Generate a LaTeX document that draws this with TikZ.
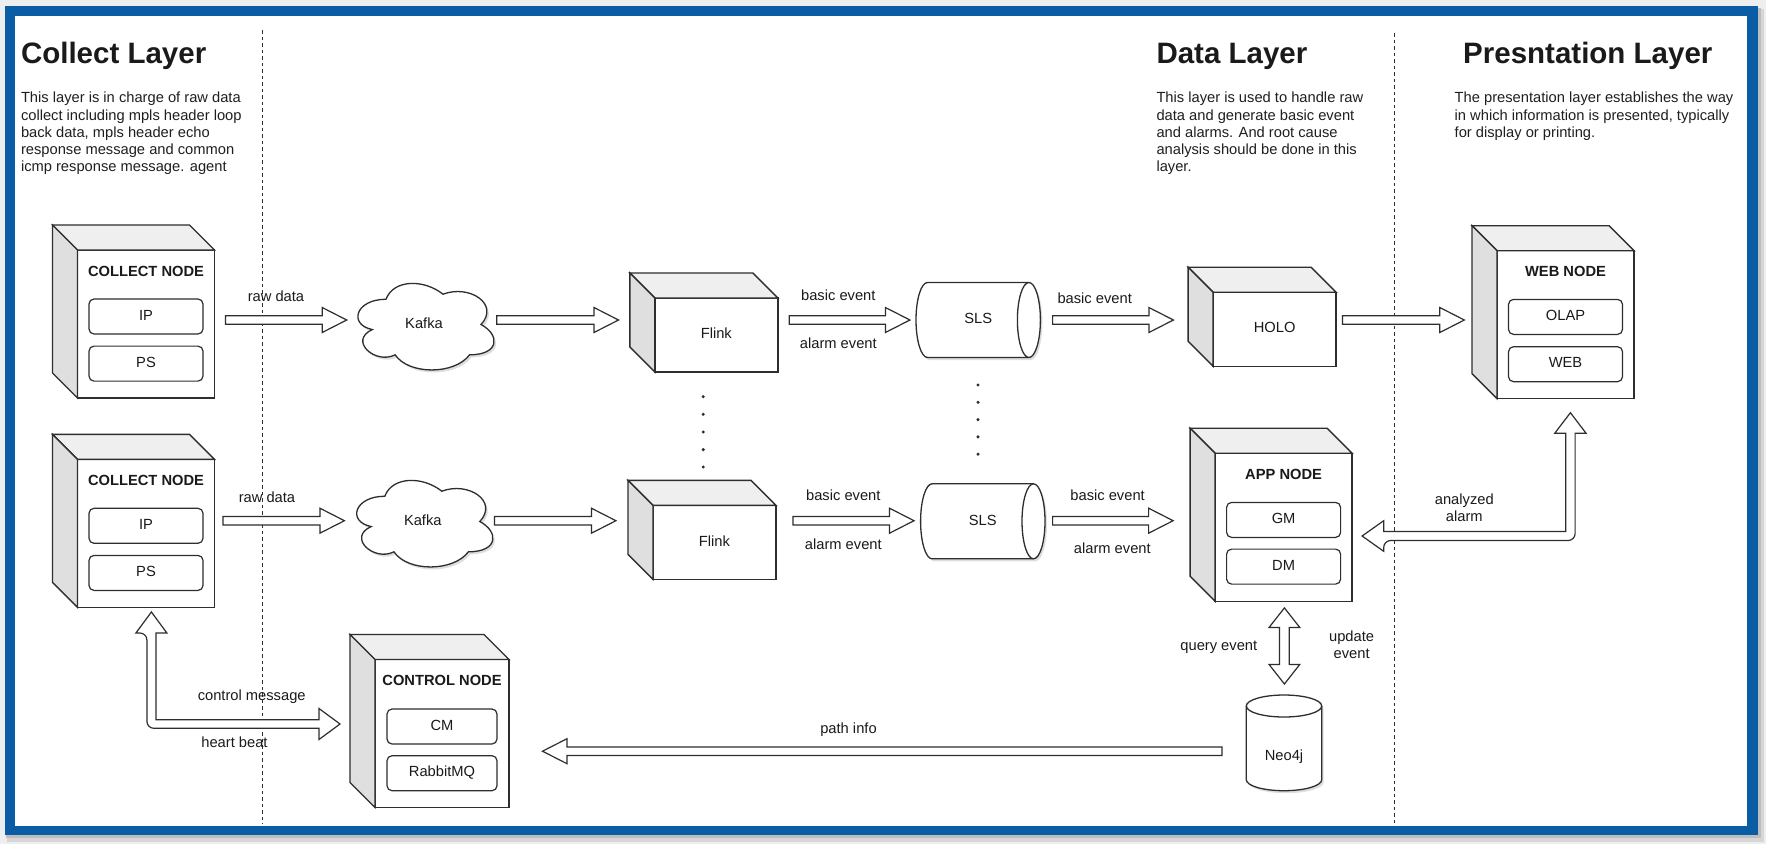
\documentclass[tikz,border=0pt]{standalone}
\usepackage{fontspec}
\setmainfont{Liberation Sans}
\usetikzlibrary{calc}
\pgfdeclarelayer{frame}
\pgfdeclarelayer{shapes}
\pgfsetlayers{frame,shapes,main}

\definecolor{framec}{RGB}{10,92,165}
\definecolor{edgec}{HTML}{2E2E2E}
\definecolor{topc}{HTML}{EFEFEF}
\definecolor{sidec}{HTML}{DFDFDF}
\definecolor{pagec}{HTML}{ECEEF0}
\definecolor{txtc}{HTML}{1A1A1A}

\tikzset{
  every node/.style={font=\fontsize{14.7}{17.2}\selectfont, text=txtc, inner sep=0pt, outer sep=0pt},
  lbl/.style={text height=10.6pt, text depth=3.1pt},
  front/.style={draw=edgec, fill=white, line width=1.4pt, minimum width=137pt, minimum height=148pt, lbl},
  smallfront/.style={front, minimum width=123pt, minimum height=74pt},
  face/.style={draw=edgec, line width=1.4pt, line join=miter},
  inbox/.style={draw=edgec, line width=1.2pt, rounded corners=5pt, minimum width=114pt, minimum height=35pt, lbl},
  ntitle/.style={font=\bfseries\fontsize{14.7}{17.2}\selectfont, lbl},
  bigtitle/.style={font=\bfseries\fontsize{29.5}{35}\selectfont, anchor=base west},
  desc/.style={anchor=north west, align=left, text=black!88},
  flex/.style={draw=edgec, fill=white, line width=1.2pt, line join=miter},
  shadowed/.style={preaction={fill=black, opacity=0.13, transform canvas={xshift=2pt, yshift=-2.5pt}}},
  cyl/.style={draw=edgec, line width=1.3pt},
  cloudst/.style={draw=edgec, fill=white, line width=1.3pt},
  sepline/.style={draw=edgec, line width=1.1pt, dash pattern=on 3.5pt off 3pt},
}

\newcommand\cubefaces[1]{%
  \filldraw[face, fill=topc] (#1.north west) -- ++(-25,-25) -- ($(#1.north east)+(-25,-25)$) -- (#1.north east) -- cycle;
  \filldraw[face, fill=sidec] (#1.north west) -- ++(-25,-25) -- ($(#1.south west)+(-25,-25)$) -- (#1.south west) -- cycle;
}
\newcommand\hflex[2]{%
  \draw[flex] let \p1=#1, \p2=#2, \n1={ifthenelse(\x2>\x1,1,-1)} in
    (\x1,{\y2+4.2pt}) -- ({\x2-(\n1)*24.5pt},{\y2+4.2pt}) -- ({\x2-(\n1)*24.5pt},{\y2+12.5pt})
    -- (\x2,\y2) -- ({\x2-(\n1)*24.5pt},{\y2-12.5pt}) -- ({\x2-(\n1)*24.5pt},{\y2-4.2pt})
    -- (\x1,{\y2-4.2pt}) -- cycle;
}
\newcommand\cloudshape[1]{%
  \begin{scope}[shift={(#1.north west)}, x=152pt, y=-101pt]
    \filldraw[cloudst, shadowed] (0.25,0.25) .. controls (0.05,0.25) and (0,0.5) .. (0.16,0.55)
      .. controls (0,0.66) and (0.18,0.9) .. (0.31,0.8)
      .. controls (0.4,1) and (0.7,1) .. (0.8,0.8)
      .. controls (1,0.8) and (1,0.6) .. (0.875,0.5)
      .. controls (1,0.3) and (0.8,0.1) .. (0.625,0.2)
      .. controls (0.5,0.05) and (0.3,0.05) .. (0.25,0.25) -- cycle;
  \end{scope}
}
\newcommand\hcyl[1]{%
  \filldraw[cyl, fill=white, shadowed] let \p1=(#1.north west), \p2=(#1.south east) in
    ({\x1+11.5pt},\y1) -- ({\x2-11.5pt},\y1) arc[start angle=90, end angle=-90, x radius=11.5pt, y radius=37.5pt]
    -- ({\x1+11.5pt},\y2) arc[start angle=270, end angle=90, x radius=11.5pt, y radius=37.5pt] -- cycle;
  \draw[cyl] let \p1=(#1.north west), \p2=(#1.south east) in
    ({\x2-11.5pt},\y1) arc[start angle=90, end angle=270, x radius=11.5pt, y radius=37.5pt];
}

\begin{document}
\begin{tikzpicture}[x=1pt, y=-1pt]
\useasboundingbox (0,0) rectangle (1766,844);

% ---------- frame ----------
\begin{pgfonlayer}{frame}
  \fill[pagec] (0,0) rectangle (1766,844);
  \fill[black!16] (7,9) rectangle (1764,842);
  \fill[black!26] (6,8) rectangle (1761,838);
  \fill[framec] (4.6,6) rectangle (1758.4,835);
  \fill[white] (14.5,16) rectangle (1747,826);
\end{pgfonlayer}

% ---------- separators ----------
\draw[sepline] (262.3,30) -- (262.3,824);
\draw[sepline] (1394.6,33) -- (1394.6,825);

% ---------- titles & descriptions ----------
\node[bigtitle] (t1) at (21,63.3) {Collect Layer};
\node[bigtitle] (t2) at (1156.5,63.3) {Data Layer};
\node[bigtitle] (t3) at (1463.2,63.3) {Presntation Layer};

\node[desc] (d1) at (21,92.3) {This layer is in charge of raw data\\collect including mpls header loop\\back data, mpls header echo\\response message and common\\icmp response message. agent};
\node[desc] (d2) at (1156.5,92.3) {This layer is used to handle raw\\data and generate basic event\\and alarms. And root cause\\analysis should be done in this\\layer.};
\node[desc] (d3) at (1454.7,92.3) {The presentation layer establishes the way\\in which information is presented, typically\\for display or printing.};

% ---------- cubes ----------
\node[front] (col1) at (146,324) {};
\node[front] (col2) at (146,533.3) {};
\node[front, minimum width=134pt] (ctrl) at (442,733.5) {};
\node[front] (web) at (1565.5,324.7) {};
\node[front] (app) at (1283.6,527.2) {};
\node[smallfront] (flink1) at (716.3,335) {Flink};
\node[smallfront] (flink2) at (714.5,542.3) {Flink};
\node[smallfront] (holo) at (1274.6,329.2) {HOLO};
\cubefaces{col1}
\cubefaces{col2}
\cubefaces{ctrl}
\cubefaces{web}
\cubefaces{app}
\cubefaces{flink1}
\cubefaces{flink2}
\cubefaces{holo}

\node[ntitle] (col1t) at ($(col1.north)+(0,22.4)$) {COLLECT NODE};
\node[inbox] (col1ip) at ($(col1.north)+(0,66.5)$) {IP};
\node[inbox] (col1ps) at ($(col1.north)+(0,113.6)$) {PS};

\node[ntitle] (col2t) at ($(col2.north)+(0,22.4)$) {COLLECT NODE};
\node[inbox] (col2ip) at ($(col2.north)+(0,66.5)$) {IP};
\node[inbox] (col2ps) at ($(col2.north)+(0,113.6)$) {PS};

\node[ntitle] (ctrlt) at ($(ctrl.north)+(0,22.4)$) {CONTROL NODE};
\node[inbox, minimum width=110pt] (ctrlcm) at ($(ctrl.north)+(0,67)$) {CM};
\node[inbox, minimum width=110pt] (ctrlmq) at ($(ctrl.north)+(0,113.7)$) {RabbitMQ};

\node[ntitle] (webt) at ($(web.north)+(0,22)$) {WEB NODE};
\node[inbox] (webolap) at ($(web.north)+(0,66.2)$) {OLAP};
\node[inbox] (webweb) at ($(web.north)+(0,113.5)$) {WEB};

\node[ntitle] (appt) at ($(app.north)+(0,22.7)$) {APP NODE};
\node[inbox] (appgm) at ($(app.north)+(0,66.7)$) {GM};
\node[inbox] (appdm) at ($(app.north)+(0,113.4)$) {DM};

% ---------- clouds & cylinders ----------
\node[minimum width=152pt, minimum height=101pt, lbl] (kafka1) at (424,324.5) {Kafka};
\node[minimum width=152pt, minimum height=101pt, lbl] (kafka2) at (422.8,521.5) {Kafka};
\node[minimum width=124.4pt, minimum height=75pt, lbl] (sls1) at (978.2,320) {SLS};
\node[minimum width=124.4pt, minimum height=75pt, lbl] (sls2) at (982.8,521.3) {SLS};
\node[minimum width=75.4pt, minimum height=95.7pt, text height=38.3pt, text depth=3.1pt] (neo) at (1284,742.85) {Neo4j};

\begin{pgfonlayer}{shapes}
  \cloudshape{kafka1}
  \cloudshape{kafka2}
  \hcyl{sls1}
  \hcyl{sls2}
  \filldraw[cyl, fill=white, shadowed] let \p1=(neo.north west), \p2=(neo.south east) in
    (\x1,{\y1-11pt}) -- (\x1,{\y2+11pt}) arc[start angle=180, end angle=360, x radius=37.7pt, y radius=11pt]
    -- (\x2,{\y1-11pt}) arc[start angle=0, end angle=180, x radius=37.7pt, y radius=11pt] -- cycle;
  \draw[cyl] let \p1=(neo.north west) in
    (\x1,{\y1-11pt}) arc[start angle=180, end angle=360, x radius=37.7pt, y radius=11pt];
\end{pgfonlayer}

% ---------- dots ----------
\foreach \yy in {396.7,414.3,432,449.6,467} \fill[edgec] (703.2,\yy) circle[radius=1.7pt];
\foreach \yy in {385,402.3,419.6,436.9,454.2} \fill[edgec] (978,\yy) circle[radius=1.7pt];

% ---------- arrows ----------
\coordinate (r1) at (0,320);
\coordinate (r2) at (0,520.7);
\coordinate (r3) at (0,751.2);

\hflex{($(col1.east |- r1)+(11,0)$)}{($(kafka1.west |- r1)+(-1.3,0)$)}
\hflex{($(kafka1.east |- r1)+(-3.3,0)$)}{($(flink1.west |- r1)+(-36.3,0)$)}
\hflex{($(flink1.east |- r1)+(11.4,0)$)}{($(sls1.west |- r1)+(-6.1,0)$)}
\hflex{($(sls1.east |- r1)+(12.2,0)$)}{($(holo.west |- r1)+(-39.7,0)$)}
\hflex{($(holo.east |- r1)+(6.3,0)$)}{($(web.west |- r1)+(-32.7,0)$)}

\hflex{($(col2.east |- r2)+(8.4,0)$)}{($(kafka2.west |- r2)+(-2.4,0)$)}
\hflex{($(kafka2.east |- r2)+(-4.4,0)$)}{($(flink2.west |- r2)+(-37.1,0)$)}
\hflex{($(flink2.east |- r2)+(16.9,0)$)}{($(sls2.west |- r2)+(-6.6,0)$)}
\hflex{($(sls2.east |- r2)+(7.6,0)$)}{($(app.west |- r2)+(-42,0)$)}

\hflex{($(neo.west |- r3)+(-24.3,0)$)}{($(ctrl.east |- r3)+(33.5,0)$)}

% collect <-> control (elbow, two heads)
\coordinate (c1a) at ($(col2.south)+(5.4,4.7)$);
\coordinate (c1b) at ($(ctrl.west)+(-35,-9.5)$);
\draw[flex] let \p1=(c1a), \p2=(c1b) in
  (\x1,\y1) -- ({\x1+15.5pt},{\y1-21pt}) -- ({\x1+4.5pt},{\y1-21pt}) -- ({\x1+4.5pt},{\y2+4.3pt})
  -- ({\x2-21pt},{\y2+4.3pt}) -- ({\x2-21pt},{\y2+15.5pt}) -- (\x2,\y2) -- ({\x2-21pt},{\y2-15.5pt})
  -- ({\x2-21pt},{\y2-4.3pt}) [rounded corners=7pt] -- ({\x1-4.5pt},{\y2-4.3pt}) -- ({\x1-4.5pt},{\y1-21pt})
  [sharp corners] -- ({\x1-15.5pt},{\y1-21pt}) -- cycle;

% web <-> app (elbow, two heads)
\coordinate (b5a) at ($(web.south)+(4.9,14)$);
\coordinate (b5b) at ($(app.east)+(10,8.8)$);
\draw[flex] let \p1=(b5a), \p2=(b5b) in
  (\x1,\y1) -- ({\x1+15.7pt},{\y1-20.6pt}) -- ({\x1+4.7pt},{\y1-20.6pt}) [rounded corners=7pt] -- ({\x1+4.7pt},{\y2-4.5pt})
  -- ({\x2+21.6pt},{\y2-4.5pt}) [sharp corners] -- ({\x2+21.6pt},{\y2-15.3pt}) -- (\x2,\y2) -- ({\x2+21.6pt},{\y2+15.3pt})
  -- ({\x2+21.6pt},{\y2+4.5pt}) -- ({\x1-4.7pt},{\y2+4.5pt}) -- ({\x1-4.7pt},{\y1-20.6pt})
  -- ({\x1-15.7pt},{\y1-20.6pt}) -- cycle;

% app <-> neo4j (vertical, two heads)
\coordinate (c2a) at ($(app.south)+(0.8,6.7)$);
\coordinate (c2b) at ($(neo.north)+(0.4,-11)$);
\draw[flex] let \p1=(c2a), \p2=(c2b) in
  (\x1,\y1) -- ({\x1+15.3pt},{\y1-19.5pt}) -- ({\x1+4.9pt},{\y1-19.5pt}) -- ({\x1+4.9pt},{\y2+19.5pt})
  -- ({\x1+15.3pt},{\y2+19.5pt}) -- (\x1,\y2) -- ({\x1-15.3pt},{\y2+19.5pt}) -- ({\x1-4.9pt},{\y2+19.5pt})
  -- ({\x1-4.9pt},{\y1-19.5pt}) -- ({\x1-15.3pt},{\y1-19.5pt}) -- cycle;

% ---------- labels ----------
\node[lbl] (lr1) at (276,297.3) {raw data};
\node[lbl] (lr2) at (267,499) {raw data};
\node[lbl] (lb1) at (838.3,296.7) {basic event};
\node[lbl] (la1) at (838.3,345) {alarm event};
\node[lbl] (lb2) at (1094.7,300) {basic event};
\node[lbl] (lb3) at (843.3,496.7) {basic event};
\node[lbl] (la3) at (843.3,546) {alarm event};
\node[lbl] (lb4) at (1107.6,496.7) {basic event};
\node[lbl] (la4) at (1112.3,550) {alarm event};
\node[anchor=north, align=center] (lan) at (1464.3,493.8) {analyzed\\alarm};
\node[lbl] (lq) at (1218.8,646.7) {query event};
\node[anchor=north, align=center] (lu) at (1351.6,630.8) {update\\event};
\node[lbl] (lc) at (251.7,696.7) {control message};
\node[lbl] (lh) at (234.5,743.3) {heart beat};
\node[lbl] (lp) at (848.5,730) {path info};
\end{tikzpicture}
\end{document}
